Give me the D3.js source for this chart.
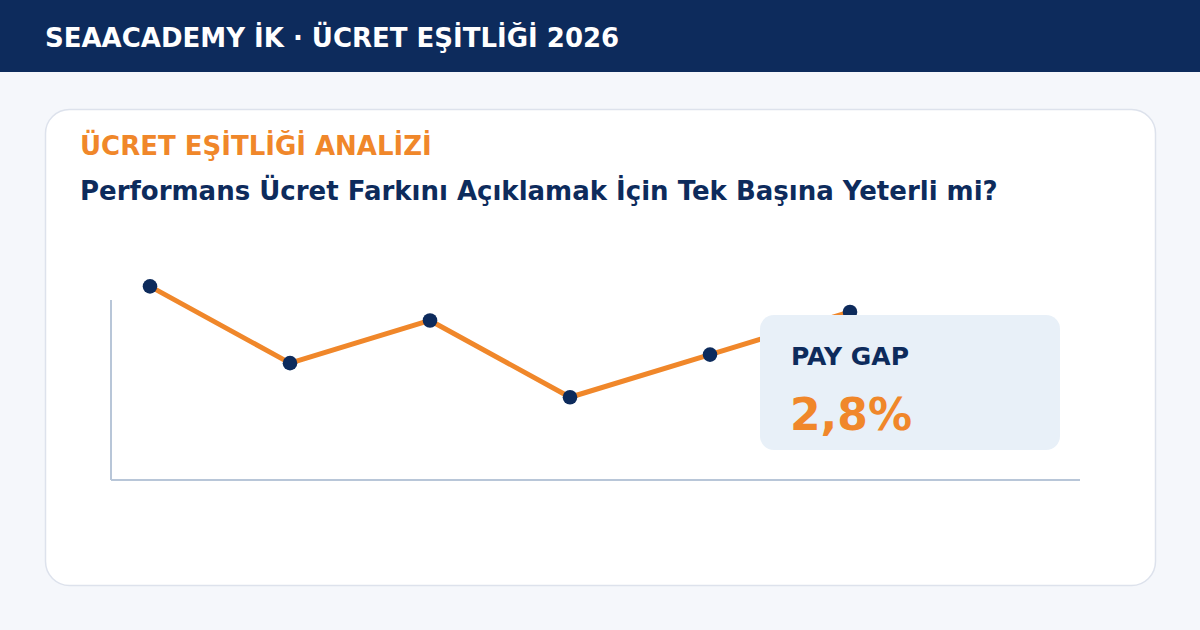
<!DOCTYPE html>
<html><head><meta charset="utf-8">
<script src="https://cdn.jsdelivr.net/npm/d3@7"></script>
<style>html,body{margin:0;padding:0;background:#f5f7fb;}svg{display:block;font-family:"DejaVu Sans",sans-serif;}</style>
</head><body>
<svg id="c" width="1200" height="630"></svg>
<script>
const headerText = "SEAACADEMY İK · ÜCRET EŞİTLİĞİ 2026";
const kicker = "ÜCRET EŞİTLİĞİ ANALİZİ";
const title = "Performans Ücret Farkını Açıklamak İçin Tek Başına Yeterli mi?";
const categories = ["P1","P2","P3","P4","P5","P6"];
const values = [72, 63, 68, 59, 64, 69];
const gapLabel = "PAY GAP";
const gapValue = "2,8%";

const svg = d3.select("#c");
svg.append("rect").attr("width",1200).attr("height",630).attr("fill","#f5f7fb");
svg.append("rect").attr("width",1200).attr("height",72).attr("fill","#0d2b5c");
svg.append("text").attr("x",45).attr("y",47).attr("fill","#fff")
  .attr("font-size",26).attr("font-weight","bold").text(headerText);

svg.append("rect").attr("x",45.5).attr("y",109.5).attr("width",1110).attr("height",476)
  .attr("rx",24).attr("fill","#fff").attr("stroke","#dde2ec").attr("stroke-width",1.5);

svg.append("text").attr("x",80).attr("y",155).attr("fill","#f0872a")
  .attr("font-size",26).attr("font-weight","bold").text(kicker);
svg.append("text").attr("x",80).attr("y",200).attr("fill","#0d2b5c")
  .attr("font-size",26).attr("font-weight","bold").text(title);

const plot = {left:111, right:1080, top:300, bottom:480};
const x = d3.scalePoint().domain(categories).range([150, 850]);
const y = d3.scaleLinear().domain([49.3, 70.4]).range([plot.bottom, plot.top]);

svg.append("line").attr("x1",plot.left).attr("x2",plot.left).attr("y1",plot.top).attr("y2",plot.bottom)
  .attr("stroke","#b8c6d8").attr("stroke-width",2);
svg.append("line").attr("x1",plot.left).attr("x2",plot.right).attr("y1",plot.bottom).attr("y2",plot.bottom)
  .attr("stroke","#b8c6d8").attr("stroke-width",2);

const line = d3.line().x((d,i)=>x(categories[i])).y(d=>y(d));
svg.append("path").datum(values).attr("d",line).attr("fill","none")
  .attr("stroke","#f0872a").attr("stroke-width",5).attr("stroke-linejoin","round");
svg.selectAll("circle.pt").data(values).join("circle").attr("class","pt")
  .attr("cx",(d,i)=>x(categories[i])).attr("cy",d=>y(d)).attr("r",7.3).attr("fill","#0d2b5c");

svg.append("rect").attr("x",760).attr("y",315).attr("width",300).attr("height",135)
  .attr("rx",14).attr("fill","#e8f0f8");
svg.append("text").attr("x",791).attr("y",365).attr("fill","#0d2b5c")
  .attr("font-size",25).attr("font-weight","bold").text(gapLabel);
svg.append("text").attr("x",790).attr("y",430).attr("fill","#f0872a")
  .attr("font-size",44).attr("font-weight","bold").text(gapValue);
</script>
</body></html>
